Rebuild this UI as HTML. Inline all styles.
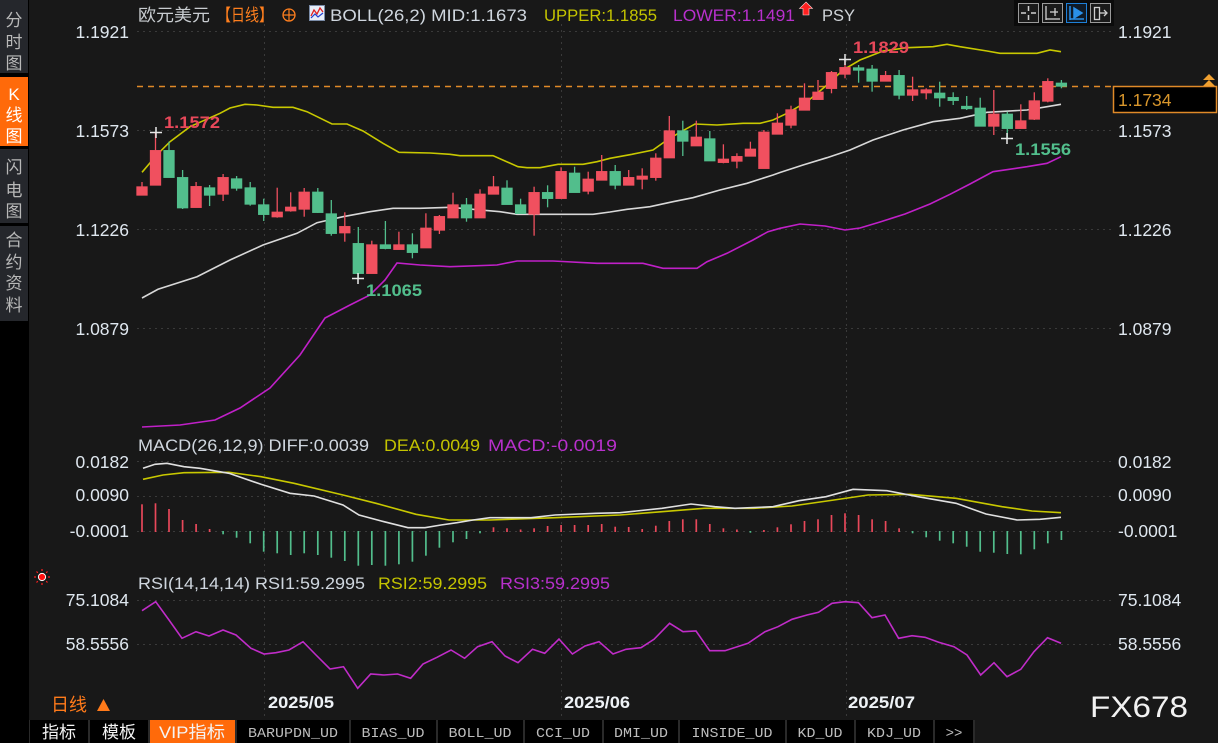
<!DOCTYPE html>
<html><head><meta charset="utf-8"><style>
html,body{margin:0;padding:0;background:#181818;}
#w{position:relative;width:1218px;height:743px;overflow:hidden;background:#181818;}
svg{position:absolute;left:0;top:0;}
text{font-family:"Liberation Sans","Noto Sans CJK SC",sans-serif;}
.ax text{font-size:17.5px;fill:#dfe7ef;}
.mono text{font-family:"Liberation Mono","Noto Sans CJK SC",monospace;font-size:14px;fill:#bdbdbd;}
</style></head><body><div id="w">
<svg width="1218" height="743" viewBox="0 0 1218 743" xmlns="http://www.w3.org/2000/svg">
<!-- sidebar -->
<rect x="0" y="0" width="29" height="743" fill="#000"/>
<rect x="0" y="0" width="28" height="73" fill="#25272c"/>
<rect x="0" y="77" width="28" height="69" fill="#ff6a0a"/>
<rect x="0" y="149" width="28" height="74" fill="#25272c"/>
<rect x="0" y="226" width="28" height="95" fill="#25272c"/>
<g font-size="17" fill="#b8b8b8" text-anchor="middle">
<text x="14" y="26">分</text><text x="14" y="48">时</text><text x="14" y="69">图</text>
<text x="14" y="100" fill="#fff">K</text><text x="14" y="121" fill="#fff">线</text><text x="14" y="142" fill="#fff">图</text>
<text x="14" y="173">闪</text><text x="14" y="196">电</text><text x="14" y="217">图</text>
<text x="14" y="246">合</text><text x="14" y="268">约</text><text x="14" y="289">资</text><text x="14" y="311">料</text>
</g>
<!-- grid -->
<g stroke="#3a3a3a" stroke-width="1" stroke-dasharray="2,4">
<line x1="137" y1="31.5" x2="1112" y2="31.5"/>
<line x1="137" y1="130.5" x2="1112" y2="130.5"/>
<line x1="137" y1="229.5" x2="1112" y2="229.5"/>
<line x1="137" y1="328.5" x2="1112" y2="328.5"/>
<line x1="137" y1="461.5" x2="1112" y2="461.5"/>
<line x1="137" y1="496.5" x2="1112" y2="496.5"/>
<line x1="137" y1="531.5" x2="1112" y2="531.5"/>
<line x1="137" y1="600.5" x2="1112" y2="600.5"/>
<line x1="137" y1="644.5" x2="1112" y2="644.5"/>
<line x1="264.5" y1="24" x2="264.5" y2="718"/>
<line x1="561.5" y1="24" x2="561.5" y2="718"/>
<line x1="846.5" y1="24" x2="846.5" y2="718"/>
</g>
<!-- header -->
<text x="138" y="21" font-size="17" fill="#c8ccd0" textLength="72" lengthAdjust="spacingAndGlyphs">欧元美元</text>
<text x="217" y="21" font-size="17" fill="#ff7f1e" textLength="56" lengthAdjust="spacingAndGlyphs">【日线】</text>
<circle cx="289" cy="15" r="6" fill="none" stroke="#ff7f1e" stroke-width="1.3"/>
<line x1="283" y1="15" x2="295" y2="15" stroke="#ff7f1e" stroke-width="1.2"/><line x1="289" y1="9" x2="289" y2="21" stroke="#ff7f1e" stroke-width="1.2"/>
<rect x="309.5" y="5.5" width="15" height="15" fill="#e8eef8" stroke="#7a8ca8"/>
<polyline points="311,16 314,10 317,14 320,8 323,12" fill="none" stroke="#e02020" stroke-width="1.3"/>
<polyline points="311,18 315,14 318,17 323,13" fill="none" stroke="#2040d0" stroke-width="1.2"/>
<text x="330" y="21" font-size="17" fill="#cfd6de" textLength="197" lengthAdjust="spacingAndGlyphs">BOLL(26,2) MID:1.1673</text>
<text x="544" y="21" font-size="17" fill="#c4c400" textLength="113" lengthAdjust="spacingAndGlyphs">UPPER:1.1855</text>
<text x="673" y="21" font-size="17" fill="#b830cc" textLength="122" lengthAdjust="spacingAndGlyphs">LOWER:1.1491</text>
<polygon points="806,2 812.5,8.5 809,8.5 809,15 803,15 803,8.5 799.5,8.5" fill="#ff2020" stroke="#ffdada" stroke-width="0.6"/>
<text x="822" y="21" font-size="17" fill="#d0d4d8" textLength="33" lengthAdjust="spacingAndGlyphs">PSY</text>
<!-- top right icons -->
<rect x="1014" y="0" width="100" height="26" fill="#0b0b0b"/>
<rect x="1018.5" y="3.5" width="20" height="19" fill="#1a1a1a" stroke="#9a9a9a"/>
<g stroke="#cfcfcf" stroke-width="1.5"><line x1="1028.5" y1="6" x2="1028.5" y2="11"/><line x1="1028.5" y1="15" x2="1028.5" y2="20"/><line x1="1021" y1="13" x2="1026" y2="13"/><line x1="1031" y1="13" x2="1036" y2="13"/></g>
<rect x="1042.5" y="3.5" width="20" height="19" fill="#1a1a1a" stroke="#9a9a9a"/>
<g stroke="#cfcfcf" stroke-width="1.3"><line x1="1046" y1="6" x2="1046" y2="20"/><line x1="1046" y1="19" x2="1060" y2="19"/><line x1="1055" y1="8" x2="1055" y2="16"/><line x1="1050" y1="12" x2="1058" y2="12"/></g>
<rect x="1066.5" y="3.5" width="20" height="19" fill="#0f1a26" stroke="#1e80d8"/>
<g stroke="#2a90e8" stroke-width="1.5" fill="#2a90e8"><line x1="1070" y1="6" x2="1070" y2="20"/><line x1="1070" y1="19" x2="1084" y2="19"/><polygon points="1074,8 1082,13 1074,18"/></g>
<rect x="1090.5" y="3.5" width="20" height="19" fill="#1a1a1a" stroke="#9a9a9a"/>
<g stroke="#cfcfcf" stroke-width="1.3" fill="none"><rect x="1094.5" y="7.5" width="5" height="12"/><line x1="1100" y1="13" x2="1107" y2="13"/><polyline points="1104,10 1107,13 1104,16"/></g>
<!-- left axis -->
<g class="ax" text-anchor="end">
<text x="129" y="38">1.1921</text><text x="129" y="137">1.1573</text><text x="129" y="236">1.1226</text><text x="129" y="335">1.0879</text>
<text x="129" y="468">0.0182</text><text x="129" y="501">0.0090</text><text x="129" y="537">-0.0001</text>
<text x="129" y="606">75.1084</text><text x="129" y="650">58.5556</text>
</g>
<!-- right axis -->
<g class="ax">
<text x="1118" y="38">1.1921</text><text x="1118" y="137">1.1573</text><text x="1118" y="236">1.1226</text><text x="1118" y="335">1.0879</text>
<text x="1118" y="468">0.0182</text><text x="1118" y="501">0.0090</text><text x="1118" y="537">-0.0001</text>
<text x="1118" y="606">75.1084</text><text x="1118" y="650">58.5556</text>
</g>
<!-- price line & box -->
<line x1="137" y1="86.5" x2="1113" y2="86.5" stroke="#e08a28" stroke-width="1.5" stroke-dasharray="6,5"/>
<rect x="1113.5" y="86.5" width="103" height="26" fill="#000" stroke="#e08a28" stroke-width="1.5"/>
<text x="1118" y="106" font-size="17.5" fill="#d8962c">1.1734</text>
<polygon points="1203,86 1209,80 1215,86" fill="#f0a030"/><polygon points="1203,80 1209,74 1215,80" fill="#f0a030"/>
<!-- bollinger -->
<polyline fill="none" stroke="#c8c800" stroke-width="1.6" points="142,172.3 156.7,155 170,141.7 190,126.7 220,113.3 230,108 245,104.3 257,105 273,107.3 293,107.3 307,111.7 332,124 347,124 363,131 383,143.3 399,152.3 430,153 450,154.3 460,155.7 493,155.7 518,166.7 527,167.7 540,167.7 558,164.3 583,164.3 597,161.7 610,158.3 632,154.3 653,150 667,140 680,132.3 695,124 717,125 743,123.3 760,123.3 773,120 787,113.3 807,101.7 827,85 843,70 860,60 883,51 907,47.7 933,46.7 947,44.3 960,46.7 987,51 1000,53.3 1037,53.3 1050,50 1061,51.7"/>
<polyline fill="none" stroke="#d8d8d8" stroke-width="1.6" points="142,298 158,289.3 197,276.7 230,260 263,245 297,233.3 317,222.7 343,216.7 370,211.7 393,208.3 420,208.3 450,207.3 500,211.7 517,214.3 593,214.3 610,212 627,209.3 650,206.7 673,201.7 693,197.7 720,190 747,183.3 773,175 780,172.5 803,165 827,157.7 850,150 873,140 903,130 933,121.7 960,118.3 987,112.3 1027,110 1047,106.7 1061,104.3"/>
<polyline fill="none" stroke="#c020c8" stroke-width="1.6" points="142,427 180,425 215,420 240,408 270,388 300,355 325,318 350,305 370,295 385,280 397,263 420,265 450,266.7 497,265 517,261 553,261 597,263.3 643,263.3 663,268.3 697,268.3 707,261.7 727,253.3 753,240 768,231.7 780,228.3 800,224 825,226 845,230 860,228 880,222 905,214 930,204 950,194.3 970,184 993,171.7 1027,166.7 1047,163.3 1061,156.7"/>
<!-- red candles -->
<g stroke="#f0505f" fill="#f0505f" stroke-width="1.3">
<line x1="142" y1="182" x2="142" y2="195"/><rect x="137" y="187" width="10" height="8"/>
<line x1="155.5" y1="132.7" x2="155.5" y2="185"/><rect x="150.5" y="150.7" width="10" height="34.3"/>
<line x1="196.1" y1="182" x2="196.1" y2="207.3"/><rect x="191.1" y="186.7" width="10" height="20.6"/>
<line x1="223.1" y1="174" x2="223.1" y2="201"/><rect x="218.1" y="177.7" width="10" height="16.3"/>
<line x1="277.2" y1="187.7" x2="277.2" y2="217.7"/><rect x="272.2" y="212.3" width="10" height="4.4"/>
<line x1="290.7" y1="192.3" x2="290.7" y2="211.7"/><rect x="285.7" y="207.3" width="10" height="3.4"/>
<line x1="304.2" y1="188" x2="304.2" y2="216.7"/><rect x="299.2" y="192.3" width="10" height="16.7"/>
<line x1="344.8" y1="212.3" x2="344.8" y2="241.7"/><rect x="339.8" y="226.7" width="10" height="6"/>
<line x1="371.8" y1="240.7" x2="371.8" y2="273.3"/><rect x="366.8" y="245" width="10" height="28.3"/>
<line x1="398.9" y1="231.7" x2="398.9" y2="249.3"/><rect x="393.9" y="245" width="10" height="4.3"/>
<line x1="425.9" y1="213.3" x2="425.9" y2="247.7"/><rect x="420.9" y="228.3" width="10" height="19.4"/>
<line x1="439.4" y1="215" x2="439.4" y2="234"/><rect x="434.4" y="216.7" width="10" height="13.3"/>
<line x1="453" y1="192.7" x2="453" y2="217.7"/><rect x="448" y="205" width="10" height="12.7"/>
<line x1="480" y1="189.3" x2="480" y2="217.7"/><rect x="475" y="194.3" width="10" height="23.4"/>
<line x1="493.5" y1="176" x2="493.5" y2="194"/><rect x="488.5" y="187" width="10" height="7"/>
<line x1="534.1" y1="186.7" x2="534.1" y2="235.7"/><rect x="529.1" y="192.7" width="10" height="21.3"/>
<line x1="561.1" y1="167.3" x2="561.1" y2="198.3"/><rect x="556.1" y="171.7" width="10" height="26.6"/>
<line x1="588.2" y1="171.7" x2="588.2" y2="194.3"/><rect x="583.2" y="179.3" width="10" height="11.7"/>
<line x1="601.7" y1="155" x2="601.7" y2="180"/><rect x="596.7" y="171.7" width="10" height="8.3"/>
<line x1="628.7" y1="170" x2="628.7" y2="185"/><rect x="623.7" y="177.7" width="10" height="7.3"/>
<line x1="642.2" y1="168.3" x2="642.2" y2="189.3"/><rect x="637.2" y="176.3" width="10" height="2.7"/>
<line x1="655.8" y1="153.3" x2="655.8" y2="180.7"/><rect x="650.8" y="158.3" width="10" height="19"/>
<line x1="669.3" y1="116" x2="669.3" y2="157.7"/><rect x="664.3" y="131" width="10" height="26.7"/>
<line x1="696.3" y1="120.7" x2="696.3" y2="145.7"/><rect x="691.3" y="137.3" width="10" height="8.4"/>
<line x1="723.4" y1="144.3" x2="723.4" y2="163.3"/><rect x="718.4" y="159.3" width="10" height="3"/>
<line x1="736.9" y1="153.3" x2="736.9" y2="168.3"/><rect x="731.9" y="156.7" width="10" height="4.3"/>
<line x1="750.4" y1="141.7" x2="750.4" y2="156"/><rect x="745.4" y="149.3" width="10" height="6.7"/>
<line x1="763.9" y1="130" x2="763.9" y2="168.3"/><rect x="758.9" y="132.3" width="10" height="36"/>
<line x1="777.4" y1="113.3" x2="777.4" y2="134"/><rect x="772.4" y="123.3" width="10" height="10.7"/>
<line x1="791" y1="105.7" x2="791" y2="128.3"/><rect x="786" y="110" width="10" height="15"/>
<line x1="804.5" y1="83.3" x2="804.5" y2="110"/><rect x="799.5" y="98.3" width="10" height="11.7"/>
<line x1="818" y1="80" x2="818" y2="99.3"/><rect x="813" y="92.3" width="10" height="7"/>
<line x1="831.5" y1="71" x2="831.5" y2="93.3"/><rect x="826.5" y="72.7" width="10" height="15.6"/>
<line x1="845" y1="59" x2="845" y2="78.3"/><rect x="840" y="67.7" width="10" height="6.3"/>
<line x1="885.6" y1="71" x2="885.6" y2="81"/><rect x="880.6" y="75.7" width="10" height="5.3"/>
<line x1="912.6" y1="76.7" x2="912.6" y2="101"/><rect x="907.6" y="90" width="10" height="5"/>
<line x1="926.2" y1="88.3" x2="926.2" y2="99.3"/><rect x="921.2" y="90" width="10" height="2.7"/>
<line x1="993.8" y1="90" x2="993.8" y2="135"/><rect x="988.8" y="114.3" width="10" height="11.7"/>
<line x1="1020.8" y1="104.3" x2="1020.8" y2="128.3"/><rect x="1015.8" y="121" width="10" height="7.3"/>
<line x1="1034.3" y1="92.3" x2="1034.3" y2="120"/><rect x="1029.3" y="101" width="10" height="18"/>
<line x1="1047.8" y1="78.3" x2="1047.8" y2="102.3"/><rect x="1042.8" y="81.7" width="10" height="19.3"/>
</g>
<!-- green candles -->
<g stroke="#52be8c" fill="#52be8c" stroke-width="1.3">
<line x1="169" y1="141.7" x2="169" y2="177.3"/><rect x="164" y="150.7" width="10" height="26.6"/>
<line x1="182.6" y1="170" x2="182.6" y2="209"/><rect x="177.6" y="177.7" width="10" height="30"/>
<line x1="209.6" y1="185" x2="209.6" y2="206"/><rect x="204.6" y="188" width="10" height="7"/>
<line x1="236.6" y1="176" x2="236.6" y2="190.7"/><rect x="231.6" y="179" width="10" height="9"/>
<line x1="250.2" y1="182" x2="250.2" y2="205.7"/><rect x="245.2" y="188" width="10" height="16"/>
<line x1="263.7" y1="198.7" x2="263.7" y2="221"/><rect x="258.7" y="205" width="10" height="9.3"/>
<line x1="317.8" y1="188" x2="317.8" y2="213"/><rect x="312.8" y="192.3" width="10" height="20"/>
<line x1="331.3" y1="200" x2="331.3" y2="235.7"/><rect x="326.3" y="214" width="10" height="19.3"/>
<line x1="358.3" y1="227" x2="358.3" y2="278"/><rect x="353.3" y="243.7" width="10" height="29.6"/>
<line x1="385.4" y1="221" x2="385.4" y2="249.3"/><rect x="380.4" y="245" width="10" height="3.3"/>
<line x1="412.4" y1="233.3" x2="412.4" y2="258.3"/><rect x="407.4" y="245" width="10" height="7.3"/>
<line x1="466.5" y1="198" x2="466.5" y2="221.7"/><rect x="461.5" y="205" width="10" height="12.7"/>
<line x1="507" y1="180.3" x2="507" y2="204.3"/><rect x="502" y="188.3" width="10" height="16"/>
<line x1="520.6" y1="198.7" x2="520.6" y2="213.3"/><rect x="515.6" y="205" width="10" height="8.3"/>
<line x1="547.6" y1="185.3" x2="547.6" y2="207.3"/><rect x="542.6" y="192.7" width="10" height="5.6"/>
<line x1="574.6" y1="166.7" x2="574.6" y2="192.3"/><rect x="569.6" y="173.3" width="10" height="19"/>
<line x1="615.2" y1="165" x2="615.2" y2="189.3"/><rect x="610.2" y="171.7" width="10" height="13.3"/>
<line x1="682.8" y1="120.7" x2="682.8" y2="156"/><rect x="677.8" y="131" width="10" height="10"/>
<line x1="709.8" y1="131" x2="709.8" y2="160.7"/><rect x="704.8" y="139" width="10" height="21.7"/>
<line x1="858.6" y1="65" x2="858.6" y2="82.7"/><rect x="853.6" y="68" width="10" height="2"/>
<line x1="872.1" y1="65" x2="872.1" y2="91.7"/><rect x="867.1" y="69.3" width="10" height="11.7"/>
<line x1="899.1" y1="70" x2="899.1" y2="99.3"/><rect x="894.1" y="75.7" width="10" height="19.3"/>
<line x1="939.7" y1="81.7" x2="939.7" y2="106.7"/><rect x="934.7" y="93.3" width="10" height="4.4"/>
<line x1="953.2" y1="92.3" x2="953.2" y2="105"/><rect x="948.2" y="97.7" width="10" height="2.6"/>
<line x1="966.7" y1="96" x2="966.7" y2="110"/><rect x="961.7" y="106.5" width="10" height="2"/>
<line x1="980.2" y1="97.7" x2="980.2" y2="126"/><rect x="975.2" y="108.3" width="10" height="17.7"/>
<line x1="1007.3" y1="111.7" x2="1007.3" y2="138.3"/><rect x="1002.3" y="114.3" width="10" height="14"/>
<line x1="1061.4" y1="80" x2="1061.4" y2="88.3"/><rect x="1056.4" y="83.3" width="10" height="2.7"/>
</g>
<!-- extreme markers -->
<g stroke="#e8e8e8" stroke-width="1.5">
<line x1="150" y1="132.5" x2="162" y2="132.5"/><line x1="156" y1="127" x2="156" y2="138"/>
<line x1="352" y1="278.5" x2="364" y2="278.5"/><line x1="358" y1="273" x2="358" y2="284"/>
<line x1="839" y1="59.5" x2="851" y2="59.5"/><line x1="845" y1="54" x2="845" y2="65"/>
<line x1="1001" y1="138.5" x2="1013" y2="138.5"/><line x1="1007" y1="133" x2="1007" y2="144"/>
</g>
<g font-size="17" font-weight="bold">
<text x="164" y="128" fill="#e8485a" textLength="56" lengthAdjust="spacingAndGlyphs">1.1572</text>
<text x="366" y="296" fill="#52be8c" textLength="56" lengthAdjust="spacingAndGlyphs">1.1065</text>
<text x="853" y="53" fill="#e8485a" textLength="56" lengthAdjust="spacingAndGlyphs">1.1829</text>
<text x="1015" y="155" fill="#52be8c" textLength="56" lengthAdjust="spacingAndGlyphs">1.1556</text>
</g>
<!-- MACD -->
<text x="138" y="451" font-size="17" fill="#cfd6de" textLength="231" lengthAdjust="spacingAndGlyphs">MACD(26,12,9) DIFF:0.0039</text>
<text x="384" y="451" font-size="17" fill="#c4c400" textLength="96" lengthAdjust="spacingAndGlyphs">DEA:0.0049</text>
<text x="488" y="451" font-size="17" fill="#b830cc" textLength="129" lengthAdjust="spacingAndGlyphs">MACD:-0.0019</text>
<g stroke="#e8485a" stroke-width="1.7">
<line x1="142" y1="532" x2="142" y2="504.3"/><line x1="155.5" y1="532" x2="155.5" y2="503.3"/><line x1="169" y1="532" x2="169" y2="509"/><line x1="182.6" y1="532" x2="182.6" y2="520"/><line x1="196.1" y1="532" x2="196.1" y2="524"/><line x1="209.6" y1="532" x2="209.6" y2="529"/>
<line x1="493.5" y1="532" x2="493.5" y2="527.3"/><line x1="507" y1="532" x2="507" y2="528.3"/><line x1="520.6" y1="532" x2="520.6" y2="529.5"/><line x1="534.1" y1="532" x2="534.1" y2="528.3"/><line x1="547.6" y1="532" x2="547.6" y2="526"/><line x1="561.1" y1="532" x2="561.1" y2="525"/><line x1="574.6" y1="532" x2="574.6" y2="525"/><line x1="588.2" y1="532" x2="588.2" y2="525"/><line x1="601.7" y1="532" x2="601.7" y2="524"/><line x1="615.2" y1="532" x2="615.2" y2="526.7"/><line x1="628.7" y1="532" x2="628.7" y2="527"/><line x1="642.2" y1="532" x2="642.2" y2="529"/><line x1="655.8" y1="532" x2="655.8" y2="525.7"/><line x1="669.3" y1="532" x2="669.3" y2="521"/><line x1="682.8" y1="532" x2="682.8" y2="519.3"/><line x1="696.3" y1="532" x2="696.3" y2="519.3"/><line x1="709.8" y1="532" x2="709.8" y2="524"/><line x1="723.4" y1="532" x2="723.4" y2="528.3"/><line x1="736.9" y1="532" x2="736.9" y2="529.5"/>
<line x1="763.9" y1="532" x2="763.9" y2="530"/><line x1="777.4" y1="532" x2="777.4" y2="527.3"/><line x1="791" y1="532" x2="791" y2="524.3"/><line x1="804.5" y1="532" x2="804.5" y2="521"/><line x1="818" y1="532" x2="818" y2="519.3"/><line x1="831.5" y1="532" x2="831.5" y2="515"/><line x1="845" y1="532" x2="845" y2="513.3"/><line x1="858.6" y1="532" x2="858.6" y2="515"/><line x1="872.1" y1="532" x2="872.1" y2="519.3"/><line x1="885.6" y1="532" x2="885.6" y2="521"/><line x1="899.1" y1="532" x2="899.1" y2="528.3"/>
</g>
<g stroke="#52be8c" stroke-width="1.7">
<line x1="223.1" y1="531" x2="223.1" y2="534.3"/><line x1="236.6" y1="531" x2="236.6" y2="537.7"/><line x1="250.2" y1="531" x2="250.2" y2="543.3"/><line x1="263.7" y1="531" x2="263.7" y2="551.7"/><line x1="277.2" y1="531" x2="277.2" y2="553.3"/><line x1="290.7" y1="531" x2="290.7" y2="555"/><line x1="304.2" y1="531" x2="304.2" y2="553.3"/><line x1="317.8" y1="531" x2="317.8" y2="555"/><line x1="331.3" y1="531" x2="331.3" y2="557.7"/><line x1="344.8" y1="531" x2="344.8" y2="561"/><line x1="358.3" y1="531" x2="358.3" y2="565.7"/><line x1="371.8" y1="531" x2="371.8" y2="565"/><line x1="385.4" y1="531" x2="385.4" y2="565.7"/><line x1="398.9" y1="531" x2="398.9" y2="564.3"/><line x1="412.4" y1="531" x2="412.4" y2="561.7"/><line x1="425.9" y1="531" x2="425.9" y2="555.7"/><line x1="439.4" y1="531" x2="439.4" y2="547.7"/><line x1="453" y1="531" x2="453" y2="542.3"/><line x1="466.5" y1="531" x2="466.5" y2="539"/><line x1="480" y1="531" x2="480" y2="533.3"/>
<line x1="750.4" y1="531" x2="750.4" y2="532.7"/>
<line x1="912.6" y1="531" x2="912.6" y2="533.3"/><line x1="926.2" y1="531" x2="926.2" y2="537.3"/><line x1="939.7" y1="531" x2="939.7" y2="540.7"/><line x1="953.2" y1="531" x2="953.2" y2="543.3"/><line x1="966.7" y1="531" x2="966.7" y2="546.7"/><line x1="980.2" y1="531" x2="980.2" y2="551.7"/><line x1="993.8" y1="531" x2="993.8" y2="552.7"/><line x1="1007.3" y1="531" x2="1007.3" y2="554"/><line x1="1020.8" y1="531" x2="1020.8" y2="554.3"/><line x1="1034.3" y1="531" x2="1034.3" y2="549.3"/><line x1="1047.8" y1="531" x2="1047.8" y2="543.3"/><line x1="1061.4" y1="531" x2="1061.4" y2="540"/>
</g>
<polyline fill="none" stroke="#c8c800" stroke-width="1.6" points="143,479.3 163,475 184,472.7 229,472.3 261,476.7 294,483.3 343,495 376,503.3 416,514.3 449,520 490,520 555,517.7 620,515 662,511.7 704,508.3 754,508.3 792,506 834,500 868,495 910,494.3 956,498.3 1002,506.7 1032,511 1061,512.7"/>
<polyline fill="none" stroke="#e0e0e0" stroke-width="1.6" points="143,468.3 155,464.3 167,463.3 184,466.7 200,468.3 229,473.3 261,484.3 290,493.3 314,496 343,505 359,515 384,521.7 408,527.7 425,527.7 441,525 457,522.7 473,520 490,517.7 531,517.7 555,515 596,513.3 620,512.7 662,508.3 691,504 715,506.7 735,508.3 773,506.7 799,500.7 826,496.7 853,489.3 887,490.7 918,496.7 956,503.3 986,514 1017,520 1040,519.3 1061,517.3"/>
<!-- RSI -->
<g>
<circle cx="42" cy="577" r="3.6" fill="#ff1010" stroke="#fff" stroke-width="1"/>
<g stroke="#ff2020" stroke-width="1.2"><line x1="42" y1="569" x2="42" y2="571"/><line x1="42" y1="583" x2="42" y2="585"/><line x1="34" y1="577" x2="36" y2="577"/><line x1="48" y1="577" x2="50" y2="577"/><line x1="36.5" y1="571.5" x2="37.8" y2="572.8"/><line x1="46.2" y1="581.2" x2="47.5" y2="582.5"/><line x1="47.5" y1="571.5" x2="46.2" y2="572.8"/><line x1="37.8" y1="581.2" x2="36.5" y2="582.5"/></g>
</g>
<text x="138" y="589" font-size="17" fill="#cfd6de" textLength="227" lengthAdjust="spacingAndGlyphs">RSI(14,14,14) RSI1:59.2995</text>
<text x="378" y="589" font-size="17" fill="#c4c400" textLength="109" lengthAdjust="spacingAndGlyphs">RSI2:59.2995</text>
<text x="500" y="589" font-size="17" fill="#b830cc" textLength="110" lengthAdjust="spacingAndGlyphs">RSI3:59.2995</text>
<polyline fill="none" stroke="#c02cc8" stroke-width="1.6" points="142,610.7 155.7,601.7 169,620 182,638.3 196,631.7 209,636 223,630 236,635 251,648.3 264,654 276,652.7 289,650 303,641.7 316,655 330,669 343.5,666.7 357.7,688.3 370.7,674 384,675 397.6,674 410.6,678.3 423,664 437,657.3 451,650 464.6,658.3 477.6,646.7 492,641.7 505,656 518,662.7 532.5,649.3 544.7,653.3 559,639 572.4,654 585,646 599,641.7 613,654 626,649.3 641,647.7 654,639.3 669.6,623.3 683,631.7 696,631 709.7,650.7 725,650.7 748,643.3 765,631.7 778,626.7 792,619.3 807,615 818.5,612.3 832,603.3 845,601.7 858.5,602.7 872,617.7 885,615 898.6,638.3 912,635.7 925,637.3 938.7,642.3 954,646.7 967,655 980.7,675 994,662.7 1007,676.7 1020.8,669.3 1034,651.7 1047.5,637.7 1061,643.3"/>
<!-- time axis -->
<g font-size="17" font-weight="bold" fill="#eef2f6">
<text x="268" y="708" textLength="66" lengthAdjust="spacingAndGlyphs">2025/05</text>
<text x="564" y="708" textLength="66" lengthAdjust="spacingAndGlyphs">2025/06</text>
<text x="848" y="708" textLength="67" lengthAdjust="spacingAndGlyphs">2025/07</text>
</g>
<text x="51" y="711" font-size="18" fill="#ff7a1a">日线</text>
<polygon points="97,711 103.5,699 110,711" fill="#ff7a1a"/>
<text x="1090" y="717" font-size="30" fill="#f2f2f2" textLength="98" lengthAdjust="spacingAndGlyphs">FX678</text>
<!-- toolbar -->
<rect x="0" y="720" width="975" height="23" fill="#000"/>
<g fill="#2a2a2a">
<rect x="88" y="720" width="2" height="23"/><rect x="148" y="720" width="2" height="23"/><rect x="235" y="720" width="2" height="23"/><rect x="349" y="720" width="2" height="23"/><rect x="436" y="720" width="2" height="23"/><rect x="523" y="720" width="2" height="23"/><rect x="602" y="720" width="2" height="23"/><rect x="678" y="720" width="2" height="23"/><rect x="785" y="720" width="2" height="23"/><rect x="854" y="720" width="2" height="23"/><rect x="933" y="720" width="2" height="23"/><rect x="973" y="720" width="2" height="23"/>
<rect x="29" y="720" width="1" height="23"/>
</g>
<rect x="150" y="720" width="85" height="23" fill="#ff6a0a"/>
<g font-size="17" fill="#f4f4f4" text-anchor="middle">
<text x="59" y="738">指标</text><text x="119" y="738">模板</text>
<text x="192" y="738" textLength="66" lengthAdjust="spacingAndGlyphs">VIP指标</text>
</g>
<g class="mono" text-anchor="middle">
<text x="293" y="737" textLength="90" lengthAdjust="spacingAndGlyphs">BARUPDN_UD</text>
<text x="393" y="737" textLength="63" lengthAdjust="spacingAndGlyphs">BIAS_UD</text>
<text x="480" y="737" textLength="63" lengthAdjust="spacingAndGlyphs">BOLL_UD</text>
<text x="563" y="737" textLength="54" lengthAdjust="spacingAndGlyphs">CCI_UD</text>
<text x="641" y="737" textLength="54" lengthAdjust="spacingAndGlyphs">DMI_UD</text>
<text x="732" y="737" textLength="81" lengthAdjust="spacingAndGlyphs">INSIDE_UD</text>
<text x="820" y="737" textLength="45" lengthAdjust="spacingAndGlyphs">KD_UD</text>
<text x="894" y="737" textLength="54" lengthAdjust="spacingAndGlyphs">KDJ_UD</text>
<text x="954" y="737">&gt;&gt;</text>
</g>
</svg>
</div></body></html>
